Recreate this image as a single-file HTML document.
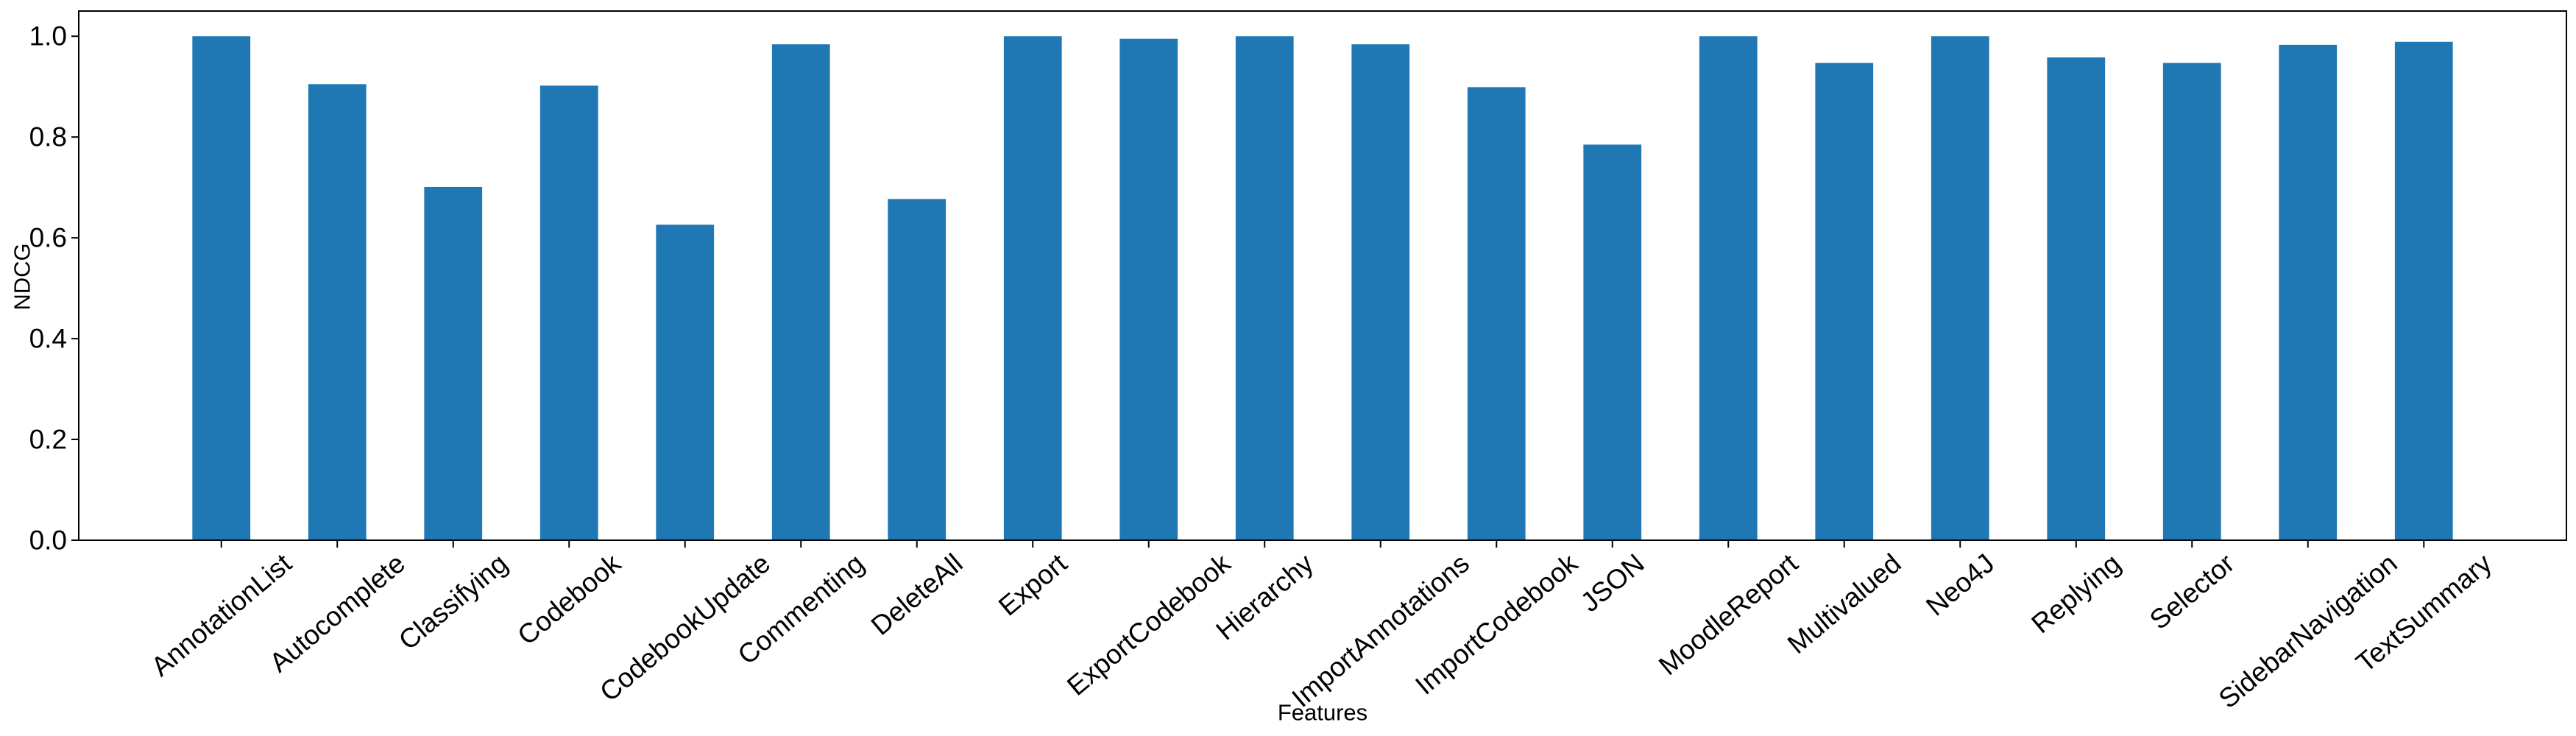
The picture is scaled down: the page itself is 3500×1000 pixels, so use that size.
<!DOCTYPE html>
<html><head><meta charset="utf-8"><style>
html,body{margin:0;padding:0;background:#fff;}
svg{display:block;font-family:"Liberation Sans",Arial,sans-serif;}
</style></head><body>
<svg id="chart" width="3500" height="1000" viewBox="0 0 3500 1000">
<rect x="0" y="0" width="3500" height="1000" fill="#fff"/>
<g id="bars"></g>
<g id="yaxis"></g>
<g id="xaxis"></g>
<rect x="107" y="15" width="3380" height="719" fill="none" stroke="#000" stroke-width="2"/>
<text x="1797" y="968" font-size="31" text-anchor="middle" dominant-baseline="central">Features</text>
<text x="30" y="376" font-size="31" text-anchor="middle" dominant-baseline="central" transform="rotate(-90,30,376)">NDCG</text>
</svg>
<script>
const categories = ["AnnotationList","Autocomplete","Classifying","Codebook","CodebookUpdate","Commenting","DeleteAll","Export","ExportCodebook","Hierarchy","ImportAnnotations","ImportCodebook","JSON","MoodleReport","Multivalued","Neo4J","Replying","Selector","SidebarNavigation","TextSummary"];
const values = [1.0,0.905,0.701,0.902,0.626,0.984,0.677,1.0,0.995,1.0,0.984,0.899,0.785,1.0,0.947,1.0,0.958,0.947,0.983,0.989];
const yTicks = [0.0,0.2,0.4,0.6,0.8,1.0];
const yTickLabels = ["0.0","0.2","0.4","0.6","0.8","1.0"];

const NS = "http://www.w3.org/2000/svg";
const L = 107, R = 3487, T = 15, B = 734;
const xMin = -1.23, xMax = categories.length - 1 + 1.23;
const yMin = 0, yMax = 1.05;
function xs(v){ return L + (v - xMin) / (xMax - xMin) * (R - L); }
function ys(v){ return B - (v - yMin) / (yMax - yMin) * (B - T); }
const bw = 0.5;

const gb = document.getElementById('bars');
values.forEach((v,i)=>{
  const r = document.createElementNS(NS,'rect');
  const x0 = xs(i - bw/2), x1 = xs(i + bw/2);
  r.setAttribute('x', x0); r.setAttribute('width', x1 - x0);
  r.setAttribute('y', ys(v)); r.setAttribute('height', ys(0) - ys(v));
  r.setAttribute('fill', '#1f77b4');
  
  
  gb.appendChild(r);
});

const gy = document.getElementById('yaxis');
yTicks.forEach((t,i)=>{
  const y = ys(t);
  const ln = document.createElementNS(NS,'line');
  ln.setAttribute('x1', L - 10); ln.setAttribute('x2', L); ln.setAttribute('y1', y); ln.setAttribute('y2', y);
  ln.setAttribute('stroke', '#000'); ln.setAttribute('stroke-width', '2');
  
  
  gy.appendChild(ln);
  const tx = document.createElementNS(NS,'text');
  tx.setAttribute('x', L - 16); tx.setAttribute('y', y);
  tx.setAttribute('font-size', '37'); tx.setAttribute('text-anchor', 'end'); tx.setAttribute('dominant-baseline', 'central');
  tx.textContent = yTickLabels[i];
  
  
  gy.appendChild(tx);
});

const gx = document.getElementById('xaxis');
const ang = 40 * Math.PI / 180, fs = 37;
categories.forEach((c,i)=>{
  const x = xs(i);
  const ln = document.createElementNS(NS,'line');
  ln.setAttribute('x1', x); ln.setAttribute('x2', x); ln.setAttribute('y1', B); ln.setAttribute('y2', B + 10);
  ln.setAttribute('stroke', '#000'); ln.setAttribute('stroke-width', '2');
  
  
  gx.appendChild(ln);
  const tx = document.createElementNS(NS,'text');
  tx.setAttribute('font-size', fs); tx.setAttribute('text-anchor', 'middle'); tx.setAttribute('dominant-baseline', 'central');
  tx.textContent = c;
  
  
  gx.appendChild(tx);
  const len = tx.getComputedTextLength();
  const h = len * Math.sin(ang) + fs * 1.0 * Math.cos(ang);
  const cy = B + 12 + h / 2;
  tx.setAttribute('x', x); tx.setAttribute('y', cy);
  tx.setAttribute('transform', 'rotate(-40,' + x + ',' + cy + ')');
});
</script>
</body></html>
